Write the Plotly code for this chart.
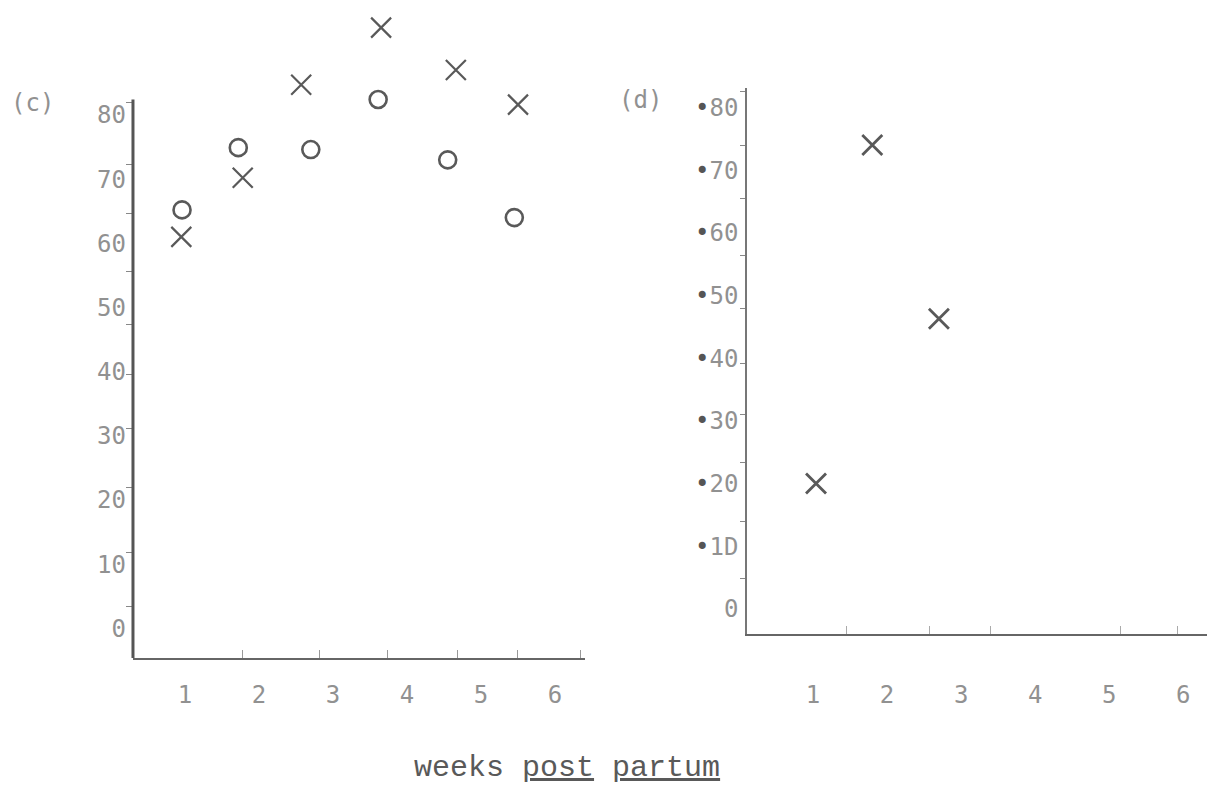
import plotly.graph_objects as go

# ---- data ----
# panel (c)
c_weeks_x = [0.95, 1.78, 2.57, 3.65, 4.66, 5.50]
c_vals_x = [61.0, 70.2, 84.7, 93.6, 87.0, 81.6]
c_weeks_o = [0.96, 1.72, 2.70, 3.61, 4.55, 5.45]
c_vals_o = [65.2, 74.9, 74.6, 82.4, 73.0, 64.0]
# panel (d)
d_weeks_x = [1.04, 1.80, 2.70]
d_vals_x = [0.20, 0.74, 0.463]

# tick labels
x_tickvals = [1, 2, 3, 4, 5, 6]
x_ticktext = ["1", "2", "3", "4", "5", "6"]
c_y_tickvals = [0, 10, 20, 30, 40, 50, 60, 70, 80]
c_y_ticktext = ["0", "10", "20", "30", "40", "50", "60", "70", "80"]
d_y_tickvals = [0, 0.1, 0.2, 0.3, 0.4, 0.5, 0.6, 0.7, 0.8]
d_y_digits = ["0", "1D", "20", "30", "40", "50", "60", "70", "80"]

# hand-drawn tick marks (not aligned with labels)
c_x_minor = [1.78, 2.82, 3.74, 4.68, 5.49, 6.35]
c_y_minor = [82.0, 72.3, 64.6, 55.6, 47.3, 39.5, 31.2, 22.0, 11.9, 3.4]
d_x_minor = [1.45, 2.57, 3.39, 5.15, 5.92]
d_y_minor = [0.825, 0.74, 0.655, 0.563, 0.48, 0.392, 0.31, 0.233, 0.139, 0.049]

# extent of the hand-drawn axis lines
c_y_axis_span = [-4.6, 82.4]
d_y_axis_span = [-0.040, 0.831]

INK = "#595959"
TICK_INK = "#919191"
tickfont = dict(family="DejaVu Sans Mono", size=24, color=TICK_INK)

d_y_ticktext = [d if d == "0" else "<span style='color:#555'>•</span>" + d for d in d_y_digits]

fig = go.Figure()
fig.add_trace(go.Scatter(x=c_weeks_x, y=c_vals_x, mode="markers", xaxis="x", yaxis="y",
                         cliponaxis=False,
                         marker=dict(symbol="x-thin-open", size=20, color=INK,
                                     line=dict(width=2.2, color=INK))))
fig.add_trace(go.Scatter(x=c_weeks_o, y=c_vals_o, mode="markers", xaxis="x", yaxis="y",
                         cliponaxis=False,
                         marker=dict(symbol="circle-open", size=17, color=INK,
                                     line=dict(width=2.6, color=INK))))
fig.add_trace(go.Scatter(x=d_weeks_x, y=d_vals_x, mode="markers", xaxis="x2", yaxis="y2",
                         cliponaxis=False,
                         marker=dict(symbol="x-thin-open", size=20, color=INK,
                                     line=dict(width=2.8, color=INK))))

fig.update_layout(
    width=1220, height=792,
    margin=dict(l=0, r=0, t=0, b=0),
    paper_bgcolor="white", plot_bgcolor="white",
    showlegend=False,
    xaxis=dict(domain=[0.1090, 0.4795], range=[0.297, 6.405], anchor="y",
               showgrid=False, zeroline=False, showline=True, linecolor="#666", linewidth=2.2,
               tickvals=x_tickvals, ticktext=x_ticktext, ticks="", tickfont=tickfont,
               ticklabelstandoff=14,
               minor=dict(tickmode="array", tickvals=c_x_minor, ticks="inside", ticklen=8,
                          tickcolor="#999", tickwidth=1, showgrid=False)),
    yaxis=dict(domain=[0.1692, 1.0], range=[-4.6, 97.9], anchor="x",
               showgrid=False, zeroline=False, showline=False,
               tickvals=c_y_tickvals, ticktext=c_y_ticktext, ticks="", tickfont=tickfont,
               ticklabelstandoff=6,
               minor=dict(tickmode="array", tickvals=c_y_minor, ticks="outside", ticklen=6,
                          tickcolor="#888", tickwidth=1, showgrid=False)),
    xaxis2=dict(domain=[0.6123, 0.9893], range=[0.108, 6.32], anchor="y2",
                showgrid=False, zeroline=False, showline=True, linecolor="#666", linewidth=2,
                tickvals=x_tickvals, ticktext=x_ticktext, ticks="", tickfont=tickfont,
                ticklabelstandoff=38,
                minor=dict(tickmode="array", tickvals=d_x_minor, ticks="inside", ticklen=8,
                           tickcolor="#aaa", tickwidth=1, showgrid=False)),
    yaxis2=dict(domain=[0.1995, 0.8889], range=d_y_axis_span, anchor="x2",
                showgrid=False, zeroline=False, showline=True, linecolor="#777", linewidth=1.5,
                tickvals=d_y_tickvals, ticktext=d_y_ticktext, ticks="", tickfont=tickfont,
                ticklabelstandoff=2,
                minor=dict(tickmode="array", tickvals=d_y_minor, ticks="outside", ticklen=5,
                           tickcolor="#888", tickwidth=1, showgrid=False)),
    shapes=[
        dict(type="line", xref="x domain", yref="y", x0=0, x1=0,
             y0=c_y_axis_span[0], y1=c_y_axis_span[1],
             line=dict(color="#555", width=3)),
    ],
    annotations=[
        dict(text="(c)", x=32 / 1220, y=1 - 103 / 792, xref="paper", yref="paper",
             showarrow=False, xanchor="center", yanchor="middle",
             font=dict(family="DejaVu Sans Mono", size=24, color=TICK_INK)),
        dict(text="(d)", x=640 / 1220, y=1 - 100 / 792, xref="paper", yref="paper",
             showarrow=False, xanchor="center", yanchor="middle",
             font=dict(family="DejaVu Sans Mono", size=24, color=TICK_INK)),
        dict(text="weeks <u>post</u> <u>partum</u>", x=567 / 1220, y=1 - 768 / 792,
             xref="paper", yref="paper", showarrow=False, xanchor="center", yanchor="middle",
             font=dict(family="Liberation Mono", size=30, color=INK)),
    ],
)

fig.write_html("out.html")
